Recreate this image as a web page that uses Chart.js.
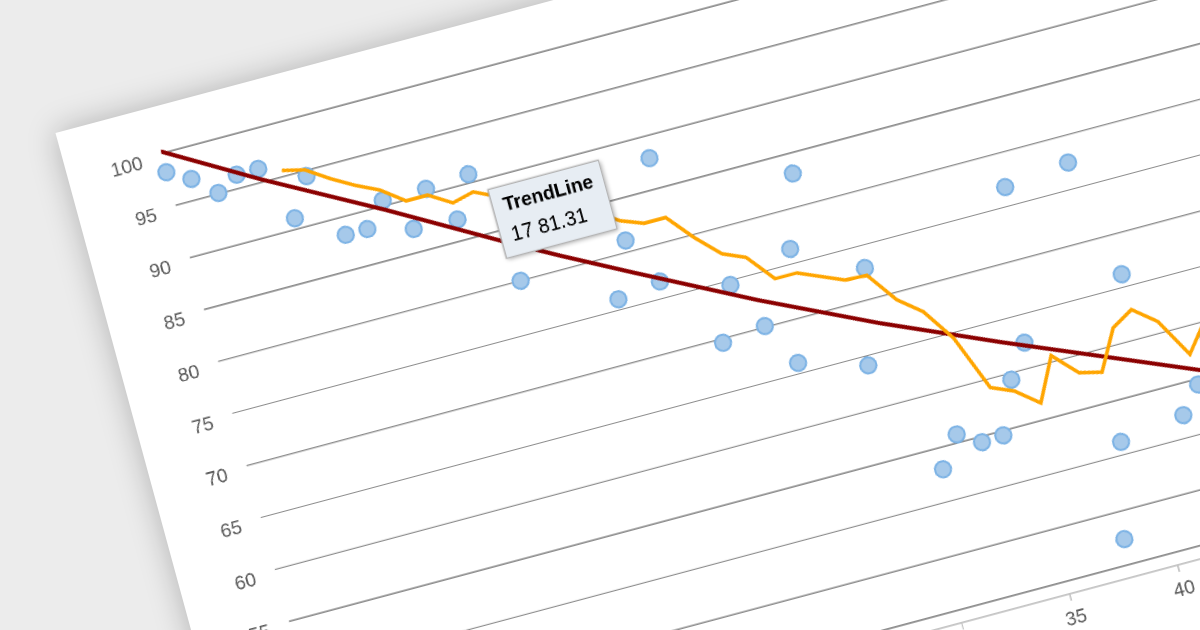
<!DOCTYPE html>
<html>
<head>
<meta charset="utf-8">
<script src="https://cdn.jsdelivr.net/npm/chart.js@4.4.1/dist/chart.umd.min.js"></script>
<style>
  html, body { margin: 0; padding: 0; }
  body { width: 1200px; height: 630px; overflow: hidden; background: #ececec; position: relative; }
  #card { position: absolute; left: 0; top: 0; width: 1100px; height: 720px; background: #fff;
          box-shadow: 0 0 22px rgba(0, 0, 0, 0.25); transform-origin: 0 0; overflow: hidden; }
  #chart { position: absolute; left: 0; top: 0; }
</style>
</head>
<body>
<div id="card"><canvas id="chart" width="880" height="560"></canvas></div>
<script>
Chart.defaults.font.family = "'Liberation Sans', Arial, sans-serif";
Chart.defaults.font.size = 14;
Chart.defaults.color = '#5a5a5a';

// raw points
var scatterX = [1, 2, 3, 4, 5, 6, 7, 8, 9, 10, 11, 12, 13, 14, 15, 16, 17, 18, 19, 20, 21, 22,
    23, 24, 25, 26, 27, 28, 29, 30, 31, 32, 33, 34, 35, 36, 37, 38, 39, 40, 41, 42, 43, 44];
var scatterY = [98.2, 97.0, 95.1, 96.3, 96.3, 91.0, 94.5, 88.3, 88.3, 90.5, 87.2, 90.5, 87.0, 90.8,
    80.0, 87.0, 85.0, 87.5, 76.0, 81.1, 76.6, 87.9, 69.6, 74.6, 70.1, 66.0, 76.4, 83.1, 64.1, 72.9,
    53.0, 55.8, 54.5, 54.6, 59.4, 62.4, 76.8, 42.4, 51.2, 77.5, 66.2, 52.1, 54.5, 58.5];

// moving average (orange)
var averageX = [6, 7, 8, 9, 10, 11, 12, 13, 14, 15, 16, 17, 18, 19, 20, 21, 22, 23, 24, 25,
    26, 27, 28, 29, 30, 31, 32, 33, 34, 35, 36, 37, 38, 39, 40, 41, 42, 43, 44];
var averageY = [95.6, 95.1, 93.7, 92.5, 91.5, 89.9, 89.9, 88.6, 89.1, 88.1, 87.1, 86.7, 86.2, 84.4,
    83.0, 82.2, 82.2, 79.7, 77.6, 76.7, 74.1, 74.1, 73.2, 72.3, 72.2, 69.3, 67.6, 64.5, 59.2, 58.3,
    56.6, 60.6, 58.4, 57.9, 61.6, 62.8, 61.1, 57.4, 60.0];

// trend line (dark red)
var trendX = [1, 5, 10, 15, 17, 20, 25, 30, 35, 40, 45, 50];
var trendY = [100.2, 95.3, 89.6, 83.6, 81.31, 78.0, 72.6, 67.6, 63.0, 58.6, 54.2, 50.3];

var xTicks = [5, 10, 15, 20, 25, 30, 35, 40, 45, 50];
var yTicks = [40, 45, 50, 55, 60, 65, 70, 75, 80, 85, 90, 95, 100];

// where the flat chart lands on the page (tilted card)
var screenAnchors = [
    { x: 1, y: 100, sx: 161.1, sy: 153.7 },
    { x: 1, y: 40, sx: 331.3, sy: 777.8 },
    { x: 40, y: 40, sx: 1174.4, sy: 552.8 },
    { x: 40, y: 100, sx: 1004.2, sy: -71.4 }
];
var cardCorner = [55.5, 133];

function toPoints(xs, ys) {
    return xs.map(function (x, i) { return { x: x, y: ys[i] }; });
}

Chart.Tooltip.positioners.nudged = function (items, eventPosition) {
    var p = Chart.Tooltip.positioners.average.call(this, items, eventPosition);
    if (!p) return false;
    return { x: p.x + 3.5, y: p.y };
};

var tooltipShadow = {
    id: 'tooltipShadow',
    beforeTooltipDraw: function (chart, args) {
        var tt = args.tooltip;
        if (!tt.opacity) return;
        var ctx = chart.ctx;
        ctx.save();
        ctx.shadowColor = 'rgba(0, 0, 0, 0.35)';
        ctx.shadowBlur = 10;
        ctx.shadowOffsetX = 2;
        ctx.shadowOffsetY = 3;
        ctx.fillStyle = '#e7edf3';
        ctx.fillRect(tt.x, tt.y, tt.width, tt.height);
        ctx.restore();
    }
};

var ctx = document.getElementById('chart').getContext('2d');
var myChart = new Chart(ctx, {
    type: 'scatter',
    data: {
        datasets: [{
            label: 'Average',
            data: toPoints(averageX, averageY),
            showLine: true,
            borderColor: '#ffa500',
            borderWidth: 2.6,
            pointRadius: 0,
            pointHoverRadius: 0,
            tension: 0
        }, {
            label: 'TrendLine',
            data: toPoints(trendX, trendY),
            showLine: true,
            borderColor: '#8b0000',
            borderWidth: 3,
            pointRadius: 0,
            pointHoverRadius: 0,
            tension: 0
        }, {
            label: 'Values',
            data: toPoints(scatterX, scatterY),
            backgroundColor: '#a6c9ea',
            borderColor: '#7db3e5',
            borderWidth: 1.5,
            pointRadius: 5.8,
            pointHoverRadius: 5.8,
            clip: false
        }]
    },
    options: {
        responsive: false,
        animation: false,
        devicePixelRatio: 3,
        events: [],
        layout: { padding: { left: 20, top: 30, right: 20, bottom: 20 } },
        plugins: {
            legend: { display: false },
            tooltip: {
                enabled: true,
                position: 'nudged',
                backgroundColor: '#e7edf3',
                borderColor: '#b4b4b4',
                borderWidth: 1,
                cornerRadius: 0,
                caretSize: 0,
                caretPadding: 8,
                displayColors: false,
                yAlign: 'bottom',
                xAlign: 'center',
                padding: { x: 8, y: 6 },
                titleColor: '#000',
                bodyColor: '#000',
                titleFont: { size: 14, weight: 'bold' },
                bodyFont: { size: 14.5 },
                titleMarginBottom: 5,
                callbacks: {
                    title: function () { return 'TrendLine'; },
                    label: function (c) { return c.parsed.x + ' ' + c.parsed.y.toFixed(2); }
                }
            }
        },
        scales: {
            x: {
                type: 'linear',
                min: 1,
                max: 50,
                afterBuildTicks: function (axis) {
                    axis.ticks = xTicks.map(function (v) { return { value: v }; });
                },
                grid: { drawOnChartArea: false, drawTicks: true, tickLength: 5, color: '#c4c4c4' },
                border: { display: true, color: '#c4c4c4' },
                ticks: { padding: 5, color: '#5a5a5a' }
            },
            y: {
                min: 38.8,
                max: 100.5,
                afterBuildTicks: function (axis) {
                    axis.ticks = yTicks.map(function (v) { return { value: v }; });
                },
                afterFit: function (axis) { axis.width = 46; },
                grid: { drawTicks: false, color: '#8c8c8c', lineWidth: 1 },
                border: { display: false },
                ticks: { padding: 15, labelOffset: 3.5, color: '#5a5a5a' }
            }
        }
    },
    plugins: [tooltipShadow]
});

myChart.tooltip.setActiveElements([{ datasetIndex: 1, index: trendX.indexOf(17) }], { x: 0, y: 0 });
myChart.update();

function homography(src, dst) {
    var m = [], r = [];
    for (var i = 0; i < 4; i++) {
        var x = src[i][0], y = src[i][1], u = dst[i][0], v = dst[i][1];
        m.push([x, y, 1, 0, 0, 0, -x * u, -y * u]); r.push(u);
        m.push([0, 0, 0, x, y, 1, -x * v, -y * v]); r.push(v);
    }
    for (var c = 0; c < 8; c++) {
        var p = c;
        for (var k = c + 1; k < 8; k++) if (Math.abs(m[k][c]) > Math.abs(m[p][c])) p = k;
        var t = m[c]; m[c] = m[p]; m[p] = t;
        t = r[c]; r[c] = r[p]; r[p] = t;
        for (k = c + 1; k < 8; k++) {
            var f = m[k][c] / m[c][c];
            for (var j = c; j < 8; j++) m[k][j] -= f * m[c][j];
            r[k] -= f * r[c];
        }
    }
    var h = [];
    for (c = 7; c >= 0; c--) {
        var s = r[c];
        for (j = c + 1; j < 8; j++) s -= m[c][j] * h[j];
        h[c] = s / m[c][c];
    }
    return h;
}

function unproject(h, u, v) {
    var a = h[0] - u * h[6], b = h[1] - u * h[7];
    var c = h[3] - v * h[6], d = h[4] - v * h[7];
    var e = u - h[2], f = v - h[5];
    var det = a * d - b * c;
    return [(e * d - b * f) / det, (a * f - e * c) / det];
}

function tiltCard() {
    var xs = myChart.scales.x, ys = myChart.scales.y;
    var dst = screenAnchors.map(function (a) { return [a.sx, a.sy]; });
    var src = screenAnchors.map(function (a) { return [xs.getPixelForValue(a.x), ys.getPixelForValue(a.y)]; });
    var corner = unproject(homography(src, dst), cardCorner[0], cardCorner[1]);
    var canvas = document.getElementById('chart');
    canvas.style.left = (-corner[0]) + 'px';
    canvas.style.top = (-corner[1]) + 'px';
    var src2 = src.map(function (p) { return [p[0] - corner[0], p[1] - corner[1]]; });
    var h = homography(src2, dst);
    // anchors form a parallelogram, so a flat 2D matrix is enough
    document.getElementById('card').style.transform = 'matrix(' +
        [h[0], h[3], h[1], h[4], h[2], h[5]].join(',') + ')';
}
tiltCard();
</script>
</body>
</html>
